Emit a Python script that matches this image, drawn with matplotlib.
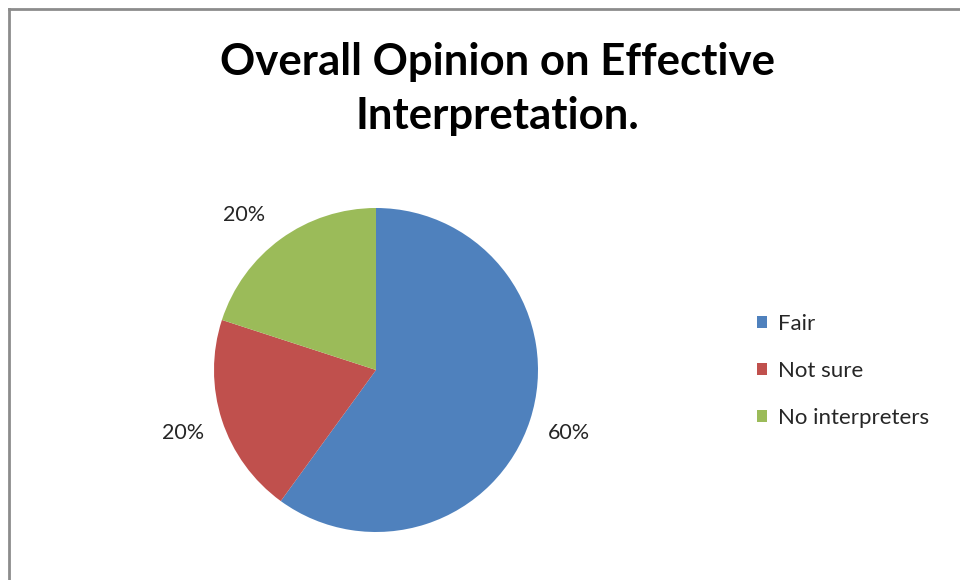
import matplotlib.pyplot as plt
from matplotlib.lines import Line2D

categorias = ["Fair", "Not sure", "No interpreters"]
porcentajes = [60, 20, 20]
colores = ["#4F81BD", "#C0504D", "#9BBB59"]
titulo = "Overall Opinion on Effective\nInterpretation."

plt.rcParams['font.family'] = ['Lato', 'DejaVu Sans']

fig = plt.figure(figsize=(9.6, 5.8), dpi=100)
W, H = 960, 580

# marco gris del grafico
fig.add_artist(Line2D([9/W, 1], [1 - 9/H, 1 - 9/H], color="#8c8c8c", lw=2))
fig.add_artist(Line2D([9/W, 9/W], [0, 1 - 9/H], color="#8c8c8c", lw=2))

fig.text(497/W, 1 - 89/H, titulo, ha="center", va="center",
         fontsize=31.5, fontweight="bold", linespacing=1.45, color="#000000")

# torta: centro (376, 370), radio 162 px
cx, cy, r = 376, 370, 162
ax = fig.add_axes([(cx - r)/W, 1 - (cy + r)/H, 2*r/W, 2*r/H])
wedges, textos, autotextos = ax.pie(
    porcentajes, colors=colores, startangle=90, counterclock=False,
    autopct="%d%%", pctdistance=1.25,
    wedgeprops=dict(linewidth=0),
    textprops=dict(fontsize=15.5, color="#262626"))
# etiqueta del sector verde, un poco mas arriba y a la izquierda
autotextos[2].set_position((-0.815, 0.957))
ax.set_xlim(-1, 1)
ax.set_ylim(-1, 1)
ax.set_aspect("equal")

fig.legend(wedges, categorias, loc="upper left",
           bbox_to_anchor=(737/W, 1 - 294/H), frameon=False,
           fontsize=16, handlelength=0.45, handleheight=0.45,
           handletextpad=0.5, labelspacing=1.22, labelcolor="#262626")

fig.savefig("out.png", dpi=100, facecolor="white")
